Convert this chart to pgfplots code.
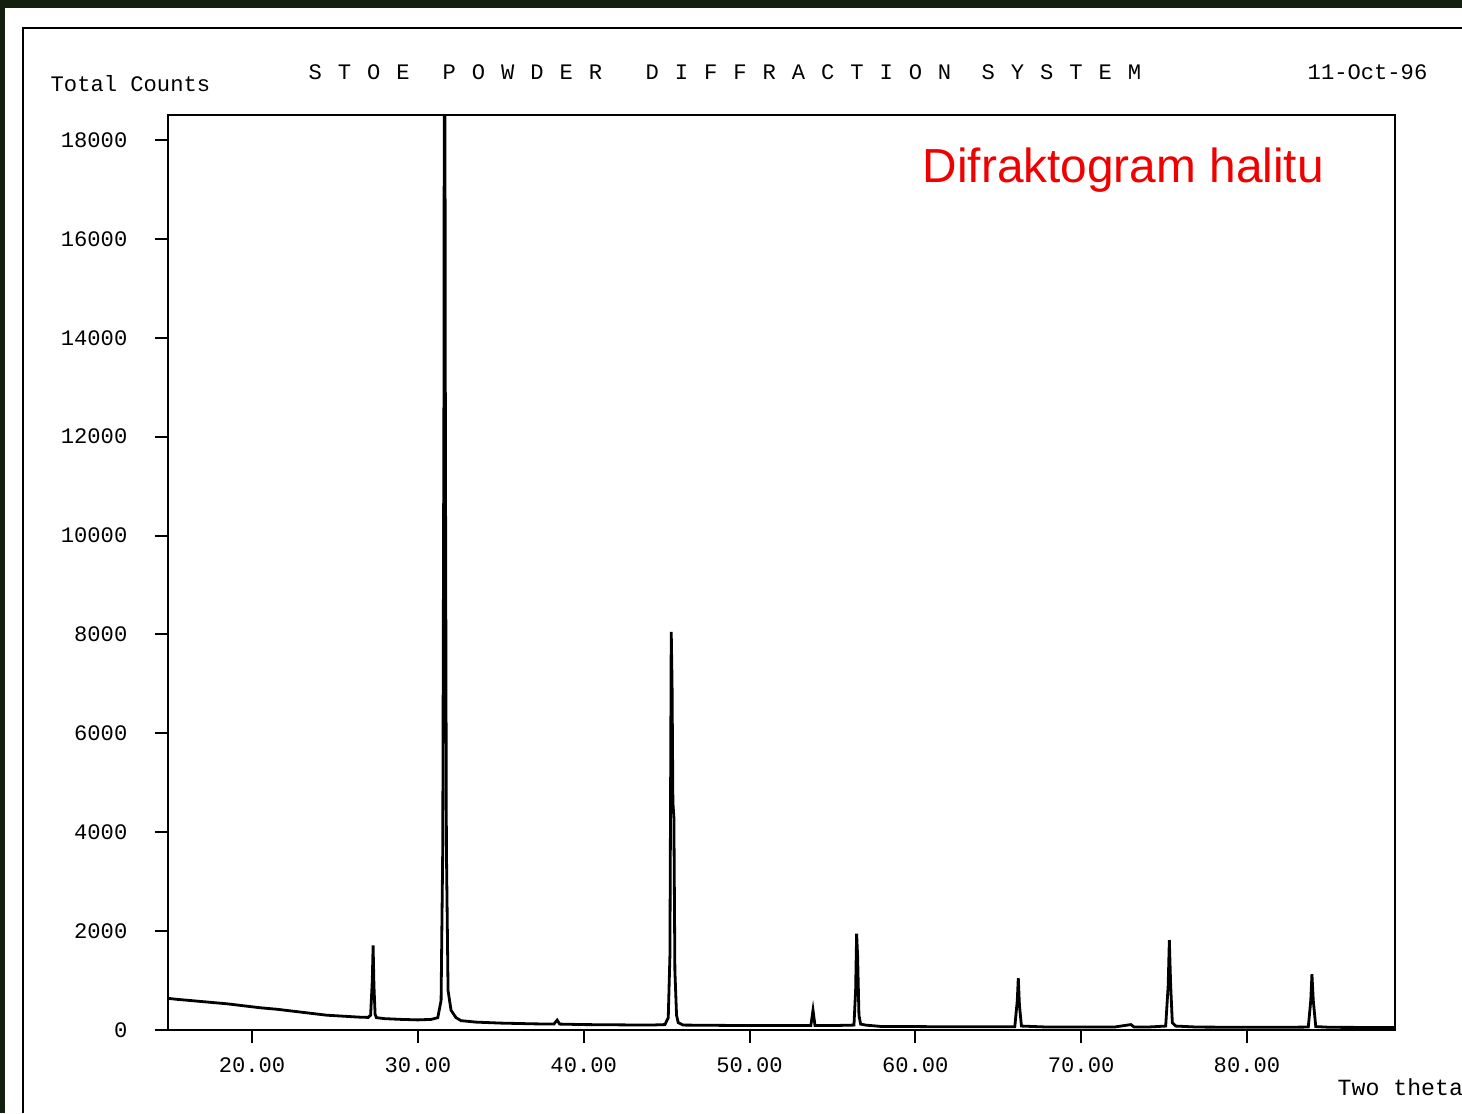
\documentclass[border=0pt]{standalone}
\usepackage{pgfplots}
\pgfplotsset{compat=1.18}
\usepackage{fontspec}
\setmainfont{Liberation Sans}
\newfontfamily\mono{Liberation Mono}
\newfontfamily\monotitle[LetterSpace=72]{Liberation Mono}
\definecolor{framegreen}{HTML}{132010}
\definecolor{titlered}{HTML}{F00000}
\begin{document}
\begin{tikzpicture}
\useasboundingbox (0,0) rectangle (14.62,11.13);
\fill[white] (0,0) rectangle (14.62,11.13);
\fill[framegreen] (0,11.05) rectangle (14.62,11.13);
\fill[framegreen] (0,0) rectangle (0.05,11.13);
\draw[black, line width=0.22mm] (0.23,0) -- (0.23,10.85) -- (14.62,10.85);
\begin{axis}[
  at={(1.68cm,0.83cm)}, anchor=south west,
  scale only axis, width=12.27cm, height=9.15cm,
  xmin=14.93, xmax=88.93, ymin=0, ymax=18506,
  scaled y ticks=false, scaled x ticks=false,
  xtick={20,30,40,50,60,70,80},
  xticklabels={20.00,30.00,40.00,50.00,60.00,70.00,80.00},
  ytick={0,2000,4000,6000,8000,10000,12000,14000,16000,18000},
  yticklabels={0,2000,4000,6000,8000,10000,12000,14000,16000,18000},
  tick align=outside, major tick length=1.3mm,
  tick style={black, line width=0.2mm},
  xtick pos=bottom, ytick pos=left,
  ticklabel style={font=\mono\fontsize{6.3pt}{7pt}\selectfont, inner sep=0pt},
  /pgf/number format/assume math mode=true,
  yticklabel style={anchor=east, xshift=-2.7mm},
  xticklabel style={anchor=north, yshift=-1.4mm},
  axis line style={black, line width=0.22mm},
  clip=true,
]
\addplot[black, line width=0.28mm] coordinates {
(14.95,640) (15.5,620) (16.5,590) (17.5,560) (18.5,530) (19.5,490) (20.5,450)
(21.5,420) (22.5,380) (23.5,340) (24.5,300) (25.5,280) (26.5,260) (27.0,255)
(27.15,300) (27.25,1000) (27.3,1710) (27.35,900) (27.42,320) (27.5,250)
(28.0,230) (29.0,215) (30.0,205) (30.8,215) (31.2,250) (31.4,600)
(31.5,3700) (31.57,12700) (31.61,25000) (31.66,12000) (31.72,3700)
(31.82,800) (32.0,400) (32.3,250) (32.6,190) (33.5,160) (35.0,140)
(37.0,125) (38.2,120) (38.4,200) (38.55,120) (40,110) (42,105) (44,100)
(44.9,110) (45.1,250) (45.2,1500) (45.28,8050) (45.33,7000) (45.38,4600)
(45.44,4300) (45.5,1200) (45.6,300) (45.7,150) (46,100) (48,95) (50,90) (52,90)
(53.7,90) (53.83,400) (53.95,90) (55,90) (56.3,100) (56.4,800)
(56.46,1950) (56.52,1500) (56.6,300) (56.7,120) (57,100) (58,70) (60,70)
(62,65) (64,65) (66.0,65) (66.15,600) (66.21,1050) (66.28,500) (66.4,80)
(68,60) (70,60) (72,60) (73.0,110) (73.2,60) (74,60) (75.1,80)
(75.25,900) (75.32,1820) (75.4,900) (75.5,150) (75.7,80) (77,60) (80,55)
(82,55) (83.7,60) (83.85,600) (83.92,1130) (84.0,600) (84.15,70) (85,55)
(88.93,50)
};
\end{axis}
\node[anchor=base west, inner sep=0pt, font=\mono\fontsize{6.3pt}{7pt}\selectfont] at (0.50,10.22) {Total Counts};
\node[anchor=base west, inner sep=0pt, font=\monotitle\fontsize{6.3pt}{7pt}\selectfont] at (3.08,10.34) {STOE};
\node[anchor=base west, inner sep=0pt, font=\monotitle\fontsize{6.3pt}{7pt}\selectfont] at (4.42,10.34) {POWDER};
\node[anchor=base west, inner sep=0pt, font=\monotitle\fontsize{6.3pt}{7pt}\selectfont] at (6.45,10.34) {DIFFRACTION};
\node[anchor=base west, inner sep=0pt, font=\monotitle\fontsize{6.3pt}{7pt}\selectfont] at (9.81,10.34) {SYSTEM};
\node[anchor=base west, inner sep=0pt, font=\mono\fontsize{6.3pt}{7pt}\selectfont] at (13.07,10.34) {11-Oct-96};
\node[anchor=base west, inner sep=0pt, font=\mono\fontsize{6.6pt}{7pt}\selectfont] at (13.37,0.18) {Two theta};
\node[anchor=base west, inner sep=0pt, text=titlered, font=\fontsize{13.6pt}{16pt}\selectfont] at (9.22,9.31) {Difraktogram halitu};
\end{tikzpicture}
\end{document}
